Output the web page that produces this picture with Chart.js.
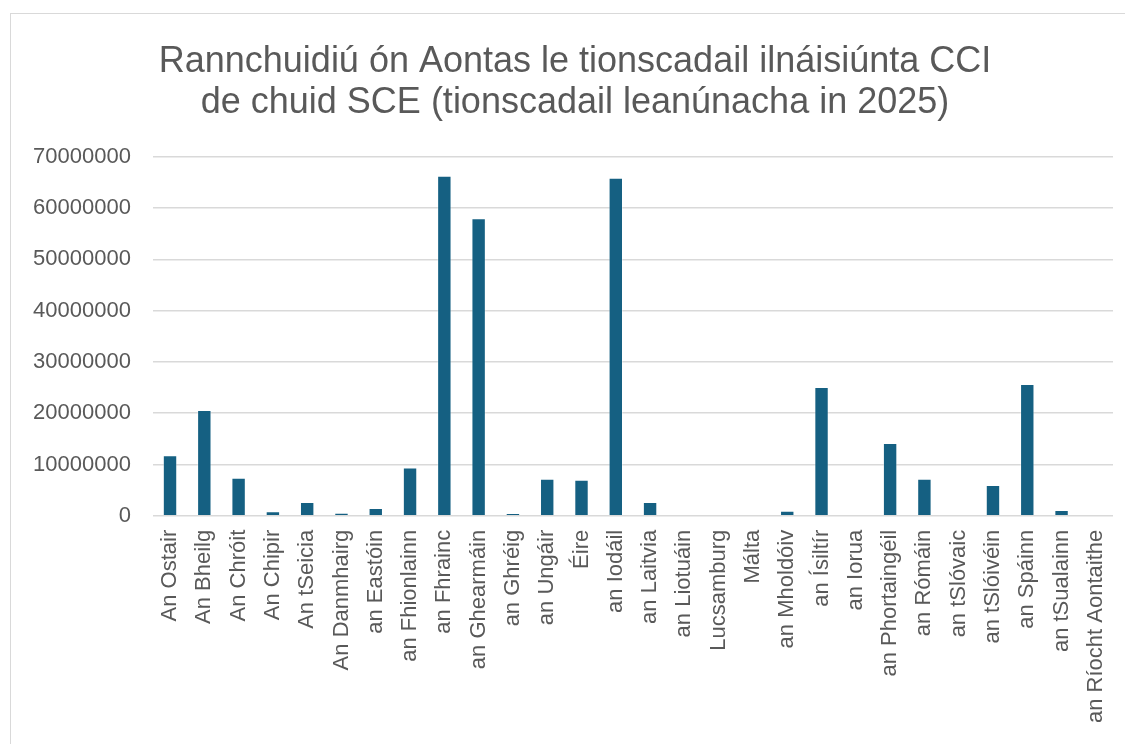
<!DOCTYPE html>
<html>
<head>
<meta charset="utf-8">
<script src="https://cdn.jsdelivr.net/npm/chart.js@4.4.1/dist/chart.umd.min.js"></script>
<style>
    html, body { margin: 0; padding: 0; background: #fff; overflow: hidden; }
    #frame {
        position: absolute; left: 10px; top: 13px;
        width: 1128px; height: 731px;
        border-left: 1px solid #d9d9d9; border-top: 1px solid #d9d9d9;
    }
</style>
</head>
<body>
<div id="frame"><canvas id="chart"></canvas></div>
<script>
    // Chart data
    var TITLE_LINES = [
        'Rannchuidiú ón Aontas le tionscadail ilnáisiúnta CCI',
        'de chuid SCE (tionscadail leanúnacha in 2025)'
    ];

    var countries = [
        'An Ostair', 'An Bheilg', 'An Chróit', 'An Chipir', 'An tSeicia',
        'An Danmhairg', 'an Eastóin', 'an Fhionlainn', 'an Fhrainc', 'an Ghearmáin',
        'an Ghréig', 'an Ungáir', 'Éire', 'an Iodáil', 'an Laitvia',
        'an Liotuáin', 'Lucsamburg', 'Málta', 'an Mholdóiv', 'an Ísiltír',
        'an Iorua', 'an Phortaingéil', 'an Rómáin', 'an tSlóvaic', 'an tSlóivéin',
        'an Spáinn', 'an tSualainn', 'an Ríocht Aontaithe'
    ];

    var contributions = [
        11800000, 20600000, 7400000, 900000, 2700000,
        600000, 1500000, 9400000, 66300000, 58000000,
        500000, 7200000, 7000000, 65900000, 2700000,
        150000, 0, 0, 1000000, 25100000,
        0, 14200000, 7200000, 150000, 6000000,
        25700000, 1100000, 0
    ];

    var Y_MIN = 0;
    var Y_MAX = 70000000;
    var Y_STEP = 10000000;

    var GREY_TEXT = '#595959';
    var GRID = '#d9d9d9';
    var BAR = '#156082';
    var FONT = 'Liberation Sans, Arial, sans-serif';

    // the title in the original sits a bit right of the layout box centre
    var titleShift = {
        id: 'titleShift',
        afterLayout: function (chart) {
            if (chart.titleBlock) chart.titleBlock.left += 26;
        }
    };

    var ctx = document.getElementById('chart').getContext('2d');
    new Chart(ctx, {
        type: 'bar',
        data: {
            labels: countries,
            datasets: [{
                label: 'Rannchuidiú',
                data: contributions,
                backgroundColor: BAR,
                borderColor: 'rgba(255,255,255,0.35)',
                borderWidth: { left: 1, right: 1, top: 1, bottom: 0 },
                categoryPercentage: 1,
                barPercentage: 0.42
            }]
        },
        plugins: [titleShift],
        options: {
            responsive: true,
            maintainAspectRatio: false,
            animation: false,
            layout: { padding: { left: 0, right: 26, top: 0, bottom: 8 } },
            plugins: {
                legend: { display: false },
                tooltip: { enabled: false },
                title: {
                    display: true,
                    text: TITLE_LINES,
                    color: GREY_TEXT,
                    font: { family: FONT, size: 36, weight: 'normal', lineHeight: 1.15 },
                    padding: { top: 27, bottom: 33 }
                }
            },
            scales: {
                x: {
                    grid: { display: false, drawTicks: false },
                    border: { display: false },
                    ticks: {
                        color: GREY_TEXT,
                        font: { family: FONT, size: 22 },
                        minRotation: 90,
                        maxRotation: 90,
                        autoSkip: false,
                        padding: 14
                    }
                },
                y: {
                    min: Y_MIN,
                    max: Y_MAX,
                    grid: { color: GRID, lineWidth: 1.5, drawTicks: false },
                    border: { display: false },
                    ticks: {
                        stepSize: Y_STEP,
                        color: GREY_TEXT,
                        font: { family: FONT, size: 22 },
                        padding: 22,
                        callback: function (v) { return String(v); }
                    }
                }
            }
        }
    });
</script>
</body>
</html>
